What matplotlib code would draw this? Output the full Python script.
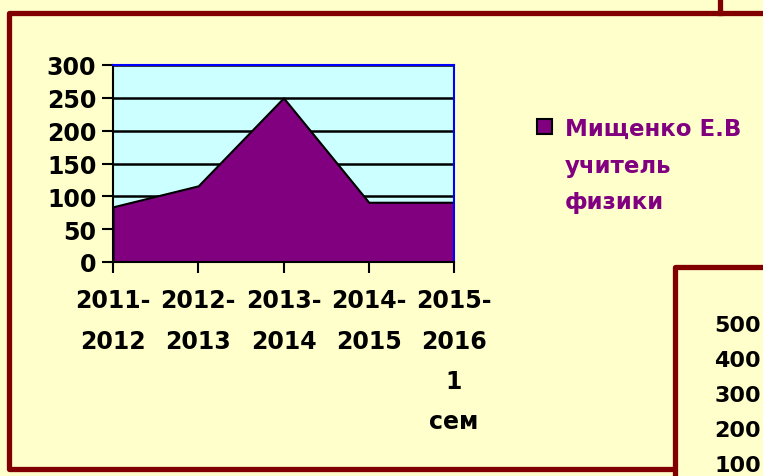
import matplotlib.pyplot as plt
from matplotlib.patches import Rectangle
import numpy as np

years = ['2011-\n2012', '2012-\n2013', '2013-\n2014', '2014-\n2015', '2015-\n2016\n1\nсем']
values = [84, 116, 250, 91, 91]
series_name = 'Мищенко Е.В\nучитель\nфизики'
side_ticks = ['500', '400', '300', '200', '100']

plt.rcParams['font.family'] = ['DejaVu Sans']
plt.rcParams['font.weight'] = 'bold'

purple = '#800080'
frame = '#800000'

fig = plt.figure(figsize=(7.63, 4.77), dpi=100, facecolor='#ffffcc')

# background layer in pixel coordinates for the slide frames
bg = fig.add_axes([0, 0, 1, 1], zorder=0)
bg.set_xlim(0, 763)
bg.set_ylim(477, 0)
bg.axis('off')
bg.plot([675, 9, 9, 763], [470, 470, 14, 14], color=frame, lw=3.8,
        solid_joinstyle='round', solid_capstyle='butt')
bg.plot([720, 720], [0, 14], color=frame, lw=3.8)
bg.plot([675, 675, 763], [477, 268, 268], color=frame, lw=3.8,
        solid_joinstyle='round', solid_capstyle='butt')
for i, t in enumerate(side_ticks):
    bg.text(761, 326 + i * 35, t, ha='right', va='center', fontsize=16)

# legend
bg.add_patch(Rectangle((537, 120), 15, 15, facecolor=purple, edgecolor='black', lw=1.5))
bg.text(565, 118, series_name, ha='left', va='top', color=purple,
        fontsize=16.5, linespacing=1.75)

ax = fig.add_axes([113 / 763, (477 - 263) / 477, 341 / 763, 197 / 477], zorder=1)
ax.set_facecolor('#ccffff')
x = np.arange(len(values))
ax.fill_between(x, values, color=purple, edgecolor='black', lw=1.5, zorder=2)
ax.set_xlim(0, len(values) - 1)
ax.set_ylim(0, 300)
ax.set_yticks(range(0, 301, 50))
ax.yaxis.grid(True, color='black', lw=1.8)
ax.set_axisbelow(True)
ax.set_xticks(x)
ax.set_xticklabels(years, linespacing=1.85)
ax.tick_params(axis='both', direction='out', length=8, width=1.5, labelsize=17)
ax.tick_params(axis='x', pad=11)
ax.tick_params(axis='y', pad=4)
for s in ['top', 'right']:
    ax.spines[s].set_color('#0000ff')
    ax.spines[s].set_linewidth(1.5)
for s in ['left', 'bottom']:
    ax.spines[s].set_linewidth(1.5)

fig.savefig('out.png', dpi=100, facecolor=fig.get_facecolor())
